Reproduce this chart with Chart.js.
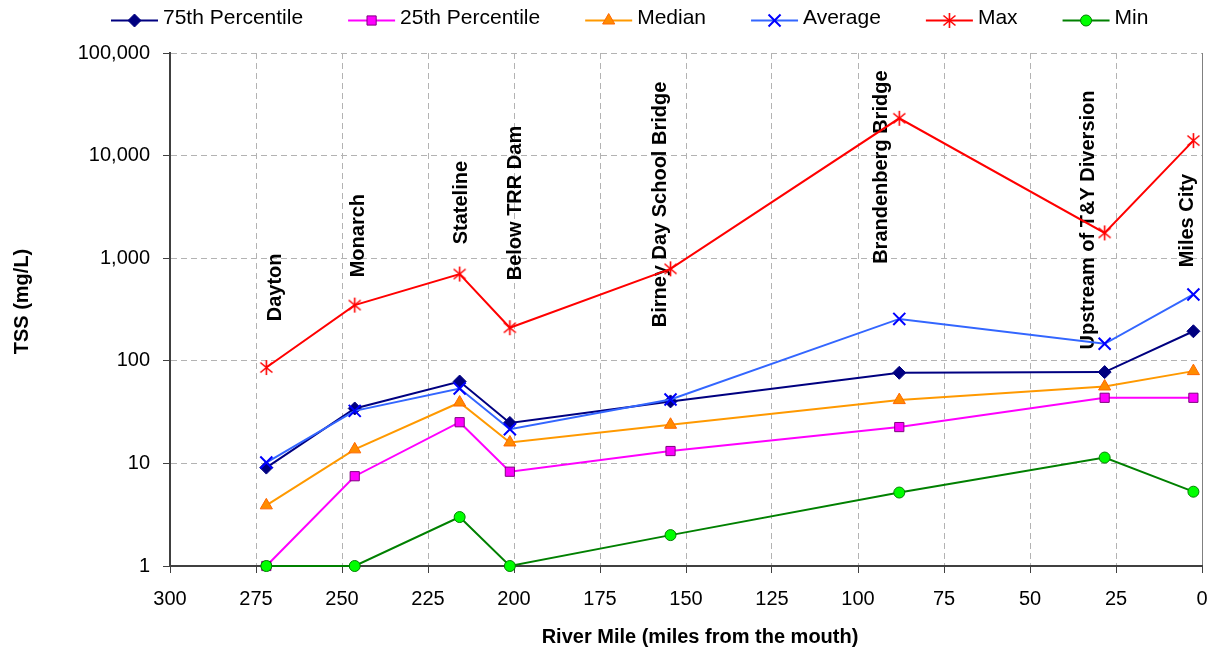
<!DOCTYPE html>
<html>
<head>
<meta charset="utf-8">
<title>TSS by river mile</title>
<script src="https://cdn.jsdelivr.net/npm/chart.js@4.4.1/dist/chart.umd.min.js"></script>
<style>
  html, body { margin: 0; padding: 0; background: #fff; }
  canvas { display: block; }
</style>
</head>
<body>
<canvas id="tssChart" width="1213" height="652"></canvas>
<script>
"use strict";

// sampling sites, upstream to downstream
const siteNames = ['Dayton', 'Monarch', 'Stateline', 'Below TRR Dam', 'Birney Day School Bridge',
  'Brandenberg Bridge', 'Upstream of T&Y Diversion', 'Miles City'];
const siteMiles = [272, 246.3, 215.8, 201.2, 154.5, 88, 28.3, 2.5];

// TSS statistics (mg/L) per site
const percentile75 = [9.1, 34.3, 62.8, 24.8, 40.2, 76.4, 77.6, 194];
const percentile25 = [1, 7.5, 25.2, 8.3, 13.2, 22.6, 43.6, 43.6];
const medianTSS = [3.9, 13.7, 39.2, 16.0, 23.8, 41.4, 56.2, 79.3];
const averageTSS = [10.2, 32.5, 53.7, 21.5, 42, 256, 146.5, 443];
const maxTSS = [86, 349, 701, 210, 787, 23100, 1765, 14000];
const minTSS = [1, 1, 3.0, 1, 2, 5.2, 11.4, 5.3];

const yTickValues = [1, 10, 100, 1000, 10000, 100000];

const xTitle = 'River Mile (miles from the mouth)';
const yTitle = 'TSS (mg/L)';

// where each site name sits (river mile of the baseline, TSS where the text starts)
const labelMiles = [267.8, 243.7, 213.7, 198.1, 155.7, 91.5, 31.3, 2.6];
const labelTSS = [243, 651, 1365, 609, 212, 881, 129, 815];

const FONT = '"Liberation Sans", Arial, Helvetica, sans-serif';
Chart.defaults.font.family = FONT;
Chart.defaults.font.size = 20;
Chart.defaults.color = '#000';

// asterisk marker: an X with a vertical bar through it
function makeStarMarker(color) {
  const c = document.createElement('canvas');
  c.width = 17;
  c.height = 17;
  const g = c.getContext('2d');
  g.strokeStyle = color;
  g.lineWidth = 1.6;
  g.beginPath();
  g.moveTo(2.5, 3.5); g.lineTo(14.5, 13.5);
  g.moveTo(2.5, 13.5); g.lineTo(14.5, 3.5);
  g.moveTo(8.5, 1); g.lineTo(8.5, 16);
  g.stroke();
  return c;
}

function series(label, values, style) {
  return Object.assign({
    label: label,
    data: values.map((v, i) => ({x: siteMiles[i], y: v})),
    borderWidth: 2,
    pointBorderWidth: 1,
    clip: false,
    fill: false,
    tension: 0
  }, style);
}

const datasets = [
  series('75th Percentile', percentile75, {
    borderColor: '#000080', pointStyle: 'rectRot', pointRadius: 6.5,
    pointBackgroundColor: '#000080', pointBorderColor: '#000080', order: 5
  }),
  series('25th Percentile', percentile25, {
    borderColor: '#FF00FF', pointStyle: 'rect', pointRadius: 6.5,
    pointBackgroundColor: '#FF00FF', pointBorderColor: '#800080', order: 4
  }),
  series('Median', medianTSS, {
    borderColor: '#FF9900', pointStyle: 'triangle', pointRadius: 7,
    pointBackgroundColor: '#FF8C00', pointBorderColor: '#FF6600', order: 3
  }),
  series('Average', averageTSS, {
    borderColor: '#3366FF', pointStyle: 'crossRot', pointRadius: 8.5,
    pointBorderColor: '#0000FF', pointBorderWidth: 2, order: 2
  }),
  series('Max', maxTSS, {
    borderColor: '#FF0000', pointStyle: makeStarMarker('#FF0000'), pointRadius: 8,
    pointBorderColor: '#FF0000', order: 1
  }),
  series('Min', minTSS, {
    borderColor: '#008000', pointStyle: 'circle', pointRadius: 5.5,
    pointBackgroundColor: '#00FF00', pointBorderColor: '#008000', order: 0
  })
];

// legend row: short line with the marker in the middle, then the name
const lineLegend = {
  id: 'lineLegend',
  afterDraw(chart) {
    const ctx = chart.ctx;
    const y = 20.5;
    let x = 111;
    ctx.save();
    ctx.font = '21px ' + FONT;
    ctx.textBaseline = 'middle';
    chart.data.datasets.forEach(ds => {
      ctx.strokeStyle = ds.borderColor;
      ctx.lineWidth = 2;
      ctx.beginPath();
      ctx.moveTo(x, y);
      ctx.lineTo(x + 47, y);
      ctx.stroke();

      ctx.fillStyle = ds.pointBackgroundColor || ds.borderColor;
      ctx.strokeStyle = ds.pointBorderColor;
      ctx.lineWidth = ds.pointBorderWidth;
      Chart.helpers.drawPoint(ctx, {
        pointStyle: ds.pointStyle, radius: ds.pointRadius,
        borderWidth: ds.pointBorderWidth, rotation: 0
      }, x + 23.5, y);

      ctx.fillStyle = '#000';
      ctx.fillText(ds.label, x + 52, 18);
      x += 52 + ctx.measureText(ds.label).width + 45;
    });
    ctx.restore();
  }
};

// vertical site names
const siteLabels = {
  id: 'siteLabels',
  beforeDatasetsDraw(chart) {
    const {ctx, scales} = chart;
    ctx.save();
    ctx.font = 'bold 20px ' + FONT;
    ctx.fillStyle = '#000';
    ctx.textAlign = 'left';
    ctx.textBaseline = 'alphabetic';
    siteNames.forEach((name, i) => {
      ctx.save();
      ctx.translate(scales.x.getPixelForValue(labelMiles[i]), scales.y.getPixelForValue(labelTSS[i]));
      ctx.rotate(-Math.PI / 2);
      ctx.fillText(name, 0, 0);
      ctx.restore();
    });
    ctx.restore();
  }
};

// axis titles, placed a little off the plot centre
const axisTitles = {
  id: 'axisTitles',
  afterDraw(chart) {
    const {ctx, chartArea} = chart;
    ctx.save();
    ctx.font = 'bold 20px ' + FONT;
    ctx.fillStyle = '#000';
    ctx.textAlign = 'center';
    ctx.textBaseline = 'middle';
    ctx.fillText(xTitle, (chartArea.left + chartArea.right) / 2 + 14, chart.height - 15);
    ctx.translate(22.5, (chartArea.top + chartArea.bottom) / 2 - 8);
    ctx.rotate(-Math.PI / 2);
    ctx.fillText(yTitle, 0, 0);
    ctx.restore();
  }
};

const gridDash = c => (c.tick && c.tick.value === 0 && c.scale.axis === 'x') ? [] : [6, 4];

new Chart(document.getElementById('tssChart').getContext('2d'), {
  type: 'line',
  data: {datasets: datasets},
  options: {
    responsive: false,
    animation: false,
    devicePixelRatio: 1,
    layout: {padding: {top: 53, right: 11, bottom: 0, left: 0}},
    plugins: {
      legend: {display: false},
      tooltip: {enabled: false}
    },
    scales: {
      x: {
        type: 'linear',
        reverse: true,
        min: 0,
        max: 300,
        ticks: {stepSize: 25, padding: 14},
        grid: {
          color: c => (c.tick && c.tick.value === 0) ? '#808080' : '#b3b3b3',
          tickLength: 7,
          tickColor: '#404040'
        },
        border: {color: '#404040', width: 2, dash: gridDash},
        afterFit: axis => {
          axis.height = 86;
          axis.paddingLeft = 0;
          axis.paddingRight = 0;
        }
      },
      y: {
        type: 'logarithmic',
        min: 1,
        max: 100000,
        afterBuildTicks: axis => { axis.ticks = yTickValues.map(v => ({value: v})); },
        ticks: {padding: 13, callback: v => Number(v).toLocaleString('en-US')},
        grid: {color: '#b3b3b3', tickLength: 7, tickColor: '#404040'},
        border: {color: '#404040', width: 2, dash: gridDash},
        afterFit: axis => { axis.width = 170; }
      }
    }
  },
  plugins: [siteLabels, lineLegend, axisTitles]
});
</script>
</body>
</html>
